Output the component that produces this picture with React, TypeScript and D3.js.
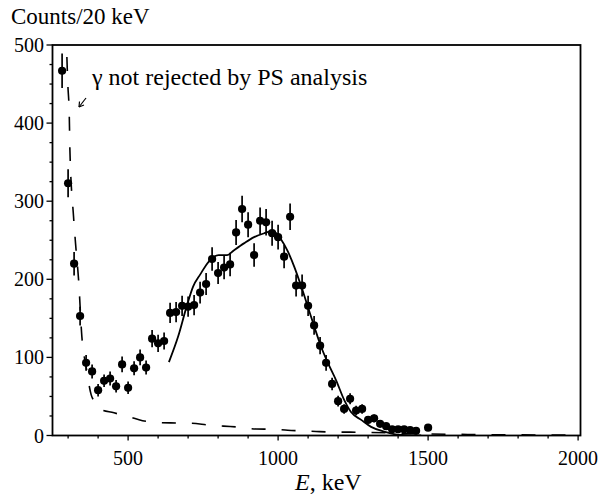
import React from 'react';
import * as d3 from 'd3';

// Measured spectrum (20 keV bins)
const energies = [
  280, 300, 320, 340, 360, 380, 400, 420, 440, 460, 480, 500, 520, 540, 560, 580, 600, 620, 640, 660,
  680, 700, 720, 740, 760, 780, 800, 820, 840, 860, 880, 900, 920, 940, 960, 980, 1000, 1020, 1040, 1060,
  1080, 1100, 1120, 1140, 1160, 1180, 1200, 1220, 1240, 1260, 1280, 1300, 1320, 1340, 1360, 1380, 1400,
  1420, 1440, 1460, 1500,
];
const counts = [
  467, 323, 220, 153, 93, 82, 58, 70, 73, 63, 91, 61, 86, 100, 87, 124, 118, 121, 157, 158,
  166, 165, 167, 183, 194, 226, 208, 215, 219, 260, 290, 270, 231, 275, 273, 259, 254, 229, 280, 192,
  192, 166, 141, 115, 93, 66, 44, 34, 47, 32, 34, 20, 22, 15, 12, 8, 8,
  8, 7, 6, 10,
];
const errors = [
  22, 18, 15, 12, 10, 9, 8, 8, 9, 8, 10, 8, 9, 10, 9, 11, 11, 11, 13, 13,
  13, 13, 13, 14, 14, 15, 14, 15, 15, 16, 17, 16, 15, 17, 17, 16, 16, 15, 17, 14,
  14, 13, 12, 11, 10, 8, 7, 6, 7, 6, 6, 4, 5, 4, 3, 3, 3,
  3, 3, 2, 3,
];

// Solid fitted curve
const fitEnergies = [
  636, 667, 695, 717, 740, 774, 802, 830, 852, 886, 920, 954, 982, 1010, 1032, 1054, 1077, 1099,
  1121, 1143, 1166, 1193, 1221, 1243, 1277, 1310, 1354, 1399, 1477,
];
const fitCounts = [
  94, 127, 165, 191, 206, 225, 231, 231, 237, 246, 254, 259, 262, 251, 236, 216, 191, 165,
  139, 114, 93, 71, 45, 30, 20, 11, 5, 1, 0,
];

// Dashed curve: gamma not rejected by PS analysis
const bgEnergies = [
  290, 295, 299, 304, 306, 318, 325, 335, 346, 360, 377, 391, 400, 453, 503, 548, 605, 661, 712, 767,
  818, 875, 926, 982, 1032, 1088, 1138, 1190, 1300, 1400, 1500, 1600, 1700, 1800, 2000,
];
const bgCounts = [
  600, 498, 451, 408, 366, 281, 245, 199, 126, 88, 52, 42, 35, 29, 24, 19, 16.4, 16, 15.6, 13.5,
  12, 10.5, 8.3, 8, 6.7, 5.8, 4.9, 4.5, 4, 3, 2, 1.5, 1, 0.8, 0.5,
];

const xMajorTicks = [500, 1000, 1500, 2000];
const xMinorTicks = d3.range(300, 2001, 100);
const yMajorTicks = [0, 100, 200, 300, 400, 500];
const yMinorTicks = d3.range(0, 501, 25);

const W = 611;
const H = 497;
const left = 52.5;
const right = 580.5;
const top = 45;
const bottom = 435.5;

const font = '"Liberation Serif", "Times New Roman", serif';

export default function App() {
  const x = d3.scaleLinear().domain([248, 2008]).range([left, right]);
  const y = d3.scaleLinear().domain([0, 500]).range([bottom, top]);

  const fitLine = d3
    .line<number>()
    .x((_, i) => x(fitEnergies[i]))
    .y((d) => y(d))
    .curve(d3.curveMonotoneX);
  const bgLine = d3
    .line<number>()
    .x((_, i) => x(bgEnergies[i]))
    .y((d) => y(d))
    .curve(d3.curveMonotoneX);

  return (
    <svg
      width={W}
      height={H}
      style={{ position: 'absolute', left: 0, top: 0, background: '#fff', fontFamily: font }}
    >
      <defs>
        <clipPath id="plotClip">
          <rect x={left} y={top} width={right - left} height={bottom - top} />
        </clipPath>
      </defs>
      <rect x={0} y={0} width={W} height={H} fill="#fff" />

      {/* Title */}
      <text x={11} y={24} fontSize={23} fill="#000">
        Counts/20 keV
      </text>

      {/* frame */}
      <rect
        x={left}
        y={top}
        width={right - left}
        height={bottom - top}
        fill="none"
        stroke="#000"
        strokeWidth={1.8}
      />

      {/* y ticks */}
      {yMinorTicks.map((t) => (
        <line
          key={'ym' + t}
          x1={left}
          x2={left - (t % 100 === 0 ? 6 : 3)}
          y1={y(t)}
          y2={y(t)}
          stroke="#000"
          strokeWidth={1.3}
        />
      ))}
      {yMajorTicks.map((t) => (
        <text
          key={'yl' + t}
          x={44}
          y={y(t)}
          dy="0.35em"
          textAnchor="end"
          fontSize={20}
          fill="#000"
        >
          {t}
        </text>
      ))}

      {/* x ticks */}
      {xMinorTicks.map((t) => (
        <line
          key={'xm' + t}
          x1={x(t)}
          x2={x(t)}
          y1={bottom}
          y2={bottom + (t % 500 === 0 ? 5 : 3)}
          stroke="#000"
          strokeWidth={1.3}
        />
      ))}
      {xMajorTicks.map((t) => (
        <text key={'xl' + t} x={x(t)} y={465} textAnchor="middle" fontSize={20} fill="#000">
          {t}
        </text>
      ))}

      {/* x axis label */}
      <text x={295} y={490} fontSize={24} fill="#000">
        <tspan fontStyle="italic">E</tspan>, keV
      </text>

      <g clipPath="url(#plotClip)">
        {/* dashed background curve */}
        <path
          d={bgLine(bgCounts) || ''}
          fill="none"
          stroke="#000"
          strokeWidth={1.6}
          strokeDasharray="14,16"
        />
        {/* fit curve */}
        <path d={fitLine(fitCounts) || ''} fill="none" stroke="#000" strokeWidth={1.8} />

        {/* error bars */}
        {energies.map((e, i) => (
          <line
            key={'eb' + i}
            x1={x(e)}
            x2={x(e)}
            y1={y(counts[i] - errors[i])}
            y2={y(counts[i] + errors[i])}
            stroke="#000"
            strokeWidth={1.7}
          />
        ))}
        {/* points */}
        {energies.map((e, i) => (
          <circle key={'pt' + i} cx={x(e)} cy={y(counts[i])} r={4.1} fill="#000" />
        ))}
      </g>

      {/* annotation */}
      <text x={92} y={85} fontSize={24} fill="#000">
        γ not rejected by PS analysis
      </text>
      <line x1={86} y1={98} x2={79} y2={107} stroke="#000" strokeWidth={1.2} />
      <path d="M79,107 L79.5,101.5 M79,107 L84,105" fill="none" stroke="#000" strokeWidth={1.2} />
    </svg>
  );
}
